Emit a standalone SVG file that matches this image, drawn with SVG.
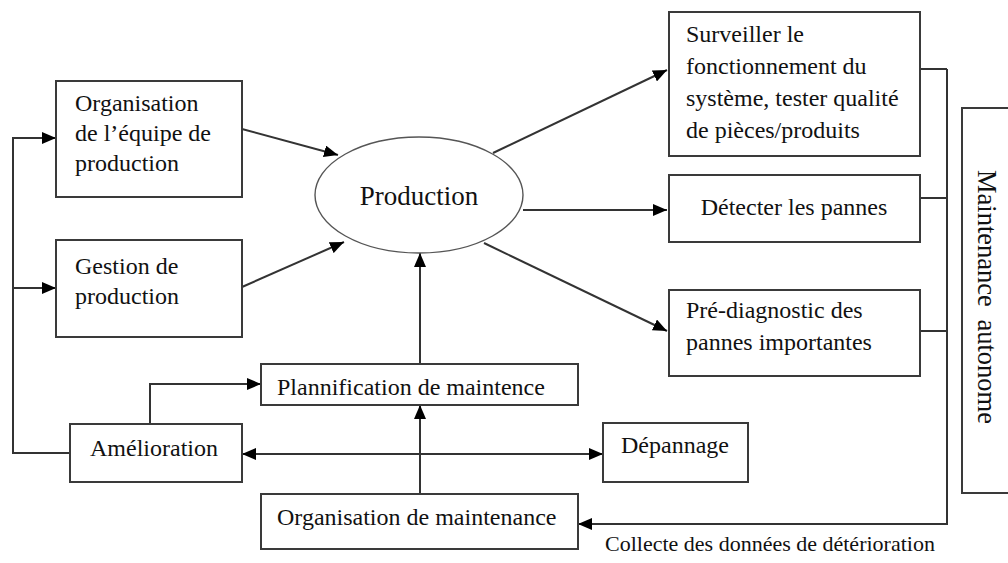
<svg xmlns="http://www.w3.org/2000/svg" width="1008" height="563" viewBox="0 0 1008 563">
<style>
.box{fill:#fff;stroke:#3a3a3a;stroke-width:2}
.ell{fill:#fff;stroke:#555;stroke-width:1.4}
.t{font-family:"Liberation Serif","Times New Roman",serif;font-size:24px;fill:#111}
.c{stroke:#333;stroke-width:2;fill:none}
.a{marker-end:url(#ah)}
</style>
<defs>
<marker id="ah" markerUnits="userSpaceOnUse" markerWidth="14" markerHeight="12" refX="14" refY="6" orient="auto-start-reverse">
<path d="M0,0 L14,6 L0,12 z" fill="#000"/>
</marker>
</defs>
<rect width="1008" height="563" fill="#fff"/>
<g id="connectors">
<path class="c a" d="M70,453 H13 V138 H56"/>
<path class="c a" d="M13,288 H56"/>
<path class="c a" d="M242,129 L338,155"/>
<path class="c a" d="M242,287 L344,242"/>
<path class="c a" d="M493,153 L667,70"/>
<path class="c a" d="M523,210 L667,210"/>
<path class="c a" d="M484,243 L667,331"/>
<path class="c a" d="M420,364 V253"/>
<path class="c a" d="M420,494 V405"/>
<path class="c a" d="M150,424 V384 H261"/>
<path class="c" d="M242,454 H603" marker-start="url(#ah)" marker-end="url(#ah)"/>
<path class="c" d="M920,69 H947 M920,198 H947 M920,331 H947"/>
<path class="c a" d="M947,69 V524 H578"/>
</g>
<g id="org-equipe">
<rect class="box" x="56" y="81" width="186" height="116"/>
<text class="t" x="75" y="111">Organisation</text>
<text class="t" x="75" y="141">de l’équipe de</text>
<text class="t" x="75" y="171">production</text>
</g>
<g id="gestion">
<rect class="box" x="56" y="240" width="186" height="97"/>
<text class="t" x="75" y="274">Gestion de</text>
<text class="t" x="75" y="304">production</text>
</g>
<g id="production">
<ellipse class="ell" cx="419" cy="195" rx="104" ry="58"/>
<text class="t" x="419" y="205" text-anchor="middle" style="font-size:27px">Production</text>
</g>
<g id="surveiller">
<rect class="box" x="669" y="12" width="251" height="144"/>
<text class="t" x="686" y="42">Surveiller le</text>
<text class="t" x="686" y="74">fonctionnement du</text>
<text class="t" x="686" y="106">système, tester qualité</text>
<text class="t" x="686" y="138">de pièces/produits</text>
</g>
<g id="detecter">
<rect class="box" x="669" y="175" width="251" height="67"/>
<text class="t" x="794" y="215" text-anchor="middle">Détecter les pannes</text>
</g>
<g id="prediagnostic">
<rect class="box" x="669" y="290" width="251" height="86"/>
<text class="t" x="686" y="318">Pré-diagnostic des</text>
<text class="t" x="686" y="350">pannes importantes</text>
</g>
<g id="maintenance-autonome">
<rect class="box" x="962" y="108" width="60" height="385"/>
<text class="t" x="978" y="297" text-anchor="middle" transform="rotate(90 978 297)" style="font-size:26.5px;word-spacing:6px">Maintenance autonome</text>
</g>
<g id="plannification">
<rect class="box" x="261" y="364" width="317" height="41"/>
<text class="t" x="277" y="395">Plannification de maintence</text>
</g>
<g id="amelioration">
<rect class="box" x="70" y="424" width="172" height="58"/>
<text class="t" x="154" y="456" text-anchor="middle">Amélioration</text>
</g>
<g id="depannage">
<rect class="box" x="603" y="423" width="145" height="59"/>
<text class="t" x="675" y="453" text-anchor="middle">Dépannage</text>
</g>
<g id="org-maintenance">
<rect class="box" x="261" y="494" width="317" height="55"/>
<text class="t" x="277" y="525">Organisation de maintenance</text>
</g>
<g id="collecte-label">
<text class="t" x="605" y="551" style="font-size:22px">Collecte des données de détérioration</text>
</g>
</svg>
